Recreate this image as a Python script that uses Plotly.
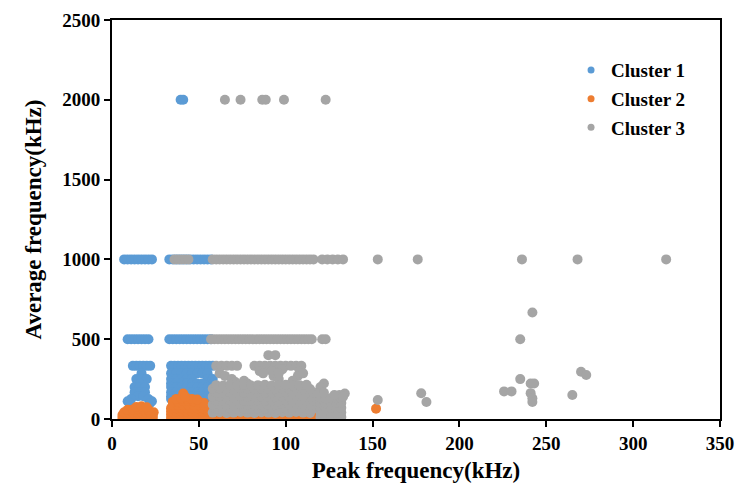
import plotly.graph_objects as go

# ---------------- data ----------------
series_names = ["Cluster 1", "Cluster 2", "Cluster 3"]
series_colors = ["#5B9BD5", "#ED7D31", "#A5A5A5"]

x_ticks = [0, 50, 100, 150, 200, 250, 300, 350]
y_ticks = [0, 500, 1000, 1500, 2000, 2500]

# Cluster 1 (peak frequency kHz, average frequency kHz)
c1_x = [
    39.5, 41,
    7, 9, 11, 13, 15, 17, 19, 21, 23, 33, 35, 37, 39, 41, 43, 45, 47, 49, 51, 53, 55, 57,
    9, 11, 13, 15, 17, 19, 21, 33, 35, 37, 39, 41, 43, 45, 47, 49, 51, 53, 55, 57,
    12, 14, 16, 18, 20, 22, 34, 36, 38, 40, 42, 44, 46, 48, 50, 52, 54, 56, 58,
    17, 34, 37, 40, 43, 46, 49, 52, 55,
    14, 17, 20, 34, 37, 40, 43, 46, 55, 58,
    16, 34, 37, 40, 43, 46, 49, 52, 58,
    13, 16, 19, 34, 37, 40, 43, 46, 49, 52, 55, 58,
    13, 16, 19, 34, 37, 40, 43, 46, 49, 52, 55, 58,
    15, 18, 34, 37, 40, 43, 46, 49, 52, 55, 58,
    11, 21, 34, 37, 43, 46, 49, 52, 55, 58,
    9, 23, 55, 58,
    10, 22,
]
c1_y = [
    2000, 2000,
    1000, 1000, 1000, 1000, 1000, 1000, 1000, 1000, 1000, 1000, 1000,
    1000, 1000, 1000, 1000, 1000, 1000, 1000, 1000, 1000, 1000, 1000,
    500, 500, 500, 500, 500, 500, 500, 500, 500, 500,
    500, 500, 500, 500, 500, 500, 500, 500, 500, 500,
    333, 333, 333, 333, 333, 333, 333, 333, 333, 333,
    333, 333, 333, 333, 333, 333, 333, 333, 333,
    286, 286, 286, 286, 286, 286, 286, 286, 286,
    250, 250, 250, 250, 250, 250, 250, 250, 250, 250,
    222, 222, 222, 222, 222, 222, 222, 222, 222,
    200, 200, 200, 200, 200, 200, 200, 200, 200, 200, 200, 200,
    167, 167, 167, 167, 167, 167, 167, 167, 167, 167, 167, 167,
    143, 143, 143, 143, 143, 143, 143, 143, 143, 143, 143,
    125, 125, 125, 125, 125, 125, 125, 125, 125, 125,
    111, 111, 111, 111,
    100, 100,
]

# Cluster 2
c2_x = [
    6, 8.5, 11, 13.5, 16, 18.5, 21, 23.5,
    6, 8.5, 11, 13.5, 16, 18.5, 21, 23.5,
    7, 9.5, 12, 14.5, 17, 19.5, 22, 24,
    9, 12, 15, 18, 21,
    14, 17, 20,
    34, 37, 40, 43, 46, 49, 52, 55, 58,
    34, 37, 40, 43, 46, 49, 52, 55, 58,
    34, 37, 40, 43, 46, 49, 52, 55, 58,
    34, 37, 40, 43, 46, 49, 52, 55,
    35, 38, 41, 44, 47, 50, 53,
    35, 38, 41, 44, 47, 50, 53,
    37, 40, 43, 46, 49,
    41, 42,
    60, 64, 68, 72, 76, 80, 84, 88, 92, 96, 100, 104, 108, 112, 116,
    62, 66, 70, 74, 78, 82, 86, 90, 94, 98, 102, 106, 110, 114, 117,
    117, 118, 117, 123, 124, 120,
    152,
]
c2_y = [
    8, 8, 8, 8, 8, 8, 8, 8,
    25, 25, 25, 25, 25, 25, 25, 25,
    42, 42, 42, 42, 42, 42, 42, 42,
    58, 60, 62, 60, 58,
    75, 80, 74,
    8, 8, 8, 8, 8, 8, 8, 8, 8,
    28, 28, 28, 28, 28, 28, 28, 28, 28,
    48, 48, 48, 48, 48, 48, 48, 48, 48,
    68, 68, 68, 68, 68, 68, 68, 68,
    88, 88, 88, 88, 88, 88, 86,
    108, 110, 112, 112, 110, 108, 100,
    126, 130, 128, 126, 122,
    160, 140,
    6, 6, 6, 6, 6, 6, 6, 6, 6, 6, 6, 6, 6, 6, 6,
    20, 20, 20, 20, 20, 20, 20, 20, 20, 20, 20, 20, 20, 20, 20,
    30, 60, 85, 20, 35, 10,
    65,
]

# Cluster 3
c3_x = [
    65, 74, 86.5, 88.5, 99, 123,
    36, 38, 40, 42, 44,
    58, 60, 62, 64, 66, 68, 70, 72, 74, 76, 78, 80, 82, 84, 86,
    88, 90, 92, 94, 96, 98, 100, 102, 104, 106, 108, 110, 112, 114, 116,
    121, 124, 127, 130, 133, 153, 176, 236, 268, 319,
    57, 59, 61, 63, 65, 67, 69, 71, 73, 75, 77, 79, 81, 83, 85,
    87, 89, 91, 93, 95, 97, 99, 101, 103, 105, 107, 109, 111, 113, 115,
    121, 123, 235,
    242, 90, 94,
    60, 63, 66, 69, 72, 82, 85, 88, 91, 94, 97, 100, 103, 106, 109,
    62, 65, 69, 71, 76, 78, 85, 87, 92, 93, 96, 98, 96, 108, 107, 104, 110, 122, 120, 134, 131,
    58, 62, 66, 70, 74, 78, 82, 86, 90, 94, 98, 102, 106, 110, 114,
    60, 64, 68, 72, 76, 80, 84, 88, 92, 96, 100, 104, 108, 112, 116,
    58, 62, 66, 70, 74, 78, 82, 86, 90, 94, 98, 102, 106, 110, 114,
    60, 64, 68, 72, 76, 80, 84, 88, 92, 96, 100, 104, 108, 112, 116,
    58, 62, 66, 70, 74, 78, 82, 86, 90, 94, 98, 102, 106, 110, 114,
    60, 64, 68, 72, 76, 80, 84, 88, 92, 96, 100, 104, 108, 112, 116,
    58, 62, 66, 70, 74, 78, 82, 86, 90, 94, 98, 102, 106, 110, 114,
    60, 64, 68, 72, 76, 80, 84, 88, 92, 96, 100, 104, 108, 112,
    120, 123, 126, 129, 132,
    120, 123, 126, 129, 132,
    120, 123, 126, 129, 132,
    120, 123, 126, 129, 132,
    120, 123, 126, 129, 132,
    119, 122, 128, 133,
    153, 178, 181, 225.7, 230, 235, 241, 243, 241, 242, 242, 265, 270, 273,
]
c3_y = [
    2000, 2000, 2000, 2000, 2000, 2000,
    1000, 1000, 1000, 1000, 1000,
    1000, 1000, 1000, 1000, 1000, 1000, 1000, 1000, 1000, 1000, 1000, 1000, 1000, 1000, 1000,
    1000, 1000, 1000, 1000, 1000, 1000, 1000, 1000, 1000, 1000, 1000, 1000, 1000, 1000, 1000,
    1000, 1000, 1000, 1000, 1000, 1000, 1000, 1000, 1000, 1000,
    500, 500, 500, 500, 500, 500, 500, 500, 500, 500, 500, 500, 500, 500, 500,
    500, 500, 500, 500, 500, 500, 500, 500, 500, 500, 500, 500, 500, 500, 500,
    500, 500, 500,
    667, 400, 400,
    333, 333, 333, 333, 333, 333, 333, 333, 333, 333, 333, 333, 333, 333, 333,
    286, 270, 250, 232, 240, 222, 300, 286, 300, 270, 250, 310, 286, 300, 270, 240, 286, 222, 200, 160, 150,
    40, 42, 38, 40, 44, 40, 38, 42, 40, 38, 42, 40, 44, 40, 38,
    65, 62, 66, 64, 65, 62, 66, 64, 65, 62, 66, 64, 65, 62, 66,
    90, 92, 88, 90, 94, 90, 88, 92, 90, 88, 92, 90, 94, 90, 88,
    115, 112, 116, 114, 115, 112, 116, 114, 115, 112, 116, 114, 115, 112, 116,
    140, 142, 138, 140, 144, 140, 138, 142, 140, 138, 142, 140, 144, 140, 138,
    165, 162, 166, 164, 165, 162, 166, 164, 165, 162, 166, 164, 165, 162, 166,
    190, 192, 188, 190, 194, 190, 188, 192, 190, 188, 192, 190, 194, 190, 188,
    212, 210, 214, 212, 215, 210, 212, 214, 210, 212, 215, 210, 212, 214,
    12, 12, 12, 12, 12,
    40, 40, 40, 40, 40,
    70, 70, 70, 70, 70,
    100, 100, 100, 100, 100,
    130, 130, 130, 130, 130,
    160, 165, 150, 140,
    119, 161, 107, 173, 173, 250, 222, 222, 162, 130, 107, 150, 296, 276,
]

# ---------------- figure ----------------
FONT = "Liberation Serif"
fig = go.Figure()

for xs, ys, col in [(c1_x, c1_y, series_colors[0]),
                    (c2_x, c2_y, series_colors[1]),
                    (c3_x, c3_y, series_colors[2])]:
    fig.add_trace(go.Scatter(x=xs, y=ys, mode="markers",
                             marker=dict(color=col, size=10, line=dict(width=0)),
                             showlegend=False, hoverinfo="skip"))

# legend entries (smaller symbols, as in the reference)
for name, col in zip(series_names, series_colors):
    fig.add_trace(go.Scatter(x=[None], y=[None], mode="markers", name=name,
                             legendgroup=name,
                             marker=dict(color=col, size=7)))

fig.update_layout(
    width=736, height=488,
    margin=dict(l=112, r=16, t=20, b=69),
    paper_bgcolor="white", plot_bgcolor="white",
    font=dict(family=FONT, color="black"),
    legend=dict(x=0.755, xanchor="left", y=0.922, yanchor="top",
                font=dict(family=FONT, size=19, weight="bold"),
                bgcolor="rgba(0,0,0,0)", tracegroupgap=1,
                itemwidth=30),
)

fig.update_xaxes(range=[0, 350], tickvals=x_ticks, ticktext=[str(v) for v in x_ticks],
                 automargin=False,
                 showgrid=False, zeroline=False,
                 showline=True, linecolor="black", linewidth=2, mirror=True,
                 ticks="outside", ticklen=6, tickwidth=2, tickcolor="black",
                 tickfont=dict(family=FONT, size=19, weight="bold"),
                 title=dict(text="Peak frequency(kHz)",
                            font=dict(family=FONT, size=23, weight="bold"),
                            standoff=9))
fig.update_yaxes(range=[0, 2500], tickvals=y_ticks, ticktext=[str(v) for v in y_ticks],
                 automargin=False,
                 showgrid=False, zeroline=False,
                 showline=True, linecolor="black", linewidth=2, mirror=True,
                 ticks="outside", ticklen=6, tickwidth=2, tickcolor="black",
                 tickfont=dict(family=FONT, size=19, weight="bold"),
                 title=dict(text="Average frequency(kHz)",
                            font=dict(family=FONT, size=23, weight="bold"),
                            standoff=14))

# remove the page's default body margin so the figure sits at the window's corner
fig.write_html("out.html",
               config={"displayModeBar": False},
               post_script="document.body.style.margin='0';"
                           "document.body.style.overflow='hidden';")
